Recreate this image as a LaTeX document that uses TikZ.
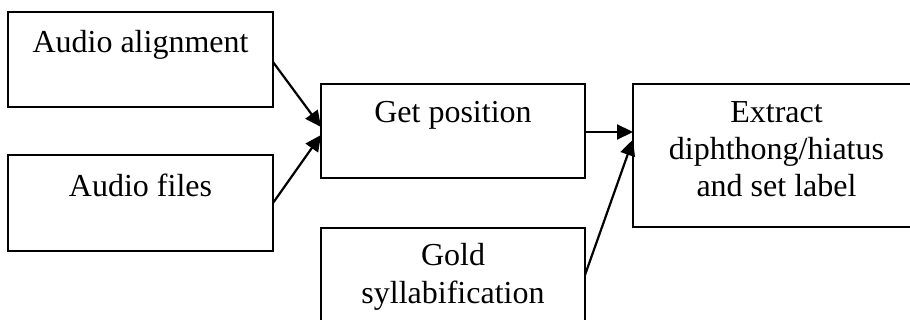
\documentclass[tikz,border=0pt]{standalone}
\usepackage{fontspec}
\setmainfont{Liberation Serif}
\usetikzlibrary{arrows.meta,calc}

\tikzset{
  stepbox/.style={draw=black, line width=2.3pt, minimum width=#1, inner sep=0pt, outer sep=0pt},
  boxtext/.style={anchor=base, align=center, inner sep=0pt,
    font=\fontsize{32pt}{37pt}\selectfont},
  flow/.style={line width=2.2pt, -{Triangle[length=16pt,width=15pt]}}
}

\begin{document}
\begin{tikzpicture}[x=1pt, y=-1pt]
  \clip (0,0) rectangle (910,320);
  \useasboundingbox (0,0) rectangle (910,320);

  % boxes
  \node[stepbox=265pt, minimum height=95pt]  (align) at (140.5,59.5) {};
  \node[stepbox=265pt, minimum height=96pt]  (files) at (140.5,203) {};
  \node[stepbox=264pt, minimum height=94pt]  (getpos) at (453,131) {};
  \node[stepbox=287pt, minimum height=143pt] (extract) at (776.5,155.5) {};
  \node[stepbox=264pt, minimum height=112pt] (gold) at (453,284) {};

  % box texts (the base anchor sits on the last line)
  \node[boxtext] (talign) at ($(align.north)+(0,41)$) {Audio alignment};
  \node[boxtext] (tfiles) at ($(files.north)+(0,42)$) {Audio files};
  \node[boxtext] (tgetpos) at ($(getpos.north)+(0,39)$) {Get position};
  \node[boxtext] (textract) at ($(extract.north)+(0,113)$) {Extract\\diphthong/hiatus\\and set label};
  \node[boxtext] (tgold) at ($(gold.north)+(0,75)$) {Gold\\syllabification};

  % connector end points
  \coordinate (inpos1) at ($(getpos.west)+(0,-4)$);
  \coordinate (inpos2) at ($(getpos.west)+(0,4)$);
  \coordinate (inext1) at ($(extract.west)+(0,-23.5)$);
  \coordinate (inext2) at ($(extract.west)+(0,-16)$);
  \coordinate (outalign) at ($(align.east)+(0,2.5)$);
  \coordinate (outgold) at ($(gold.west -| gold.east)+(0,-9)$);

  % connectors
  \draw[flow] (outalign) -- (inpos1);
  \draw[flow] (files.east) -- (inpos2);
  \draw[flow] (getpos.east |- inext1) -- (inext1);
  \draw[flow] (outgold) -- (inext2);
\end{tikzpicture}
\end{document}
